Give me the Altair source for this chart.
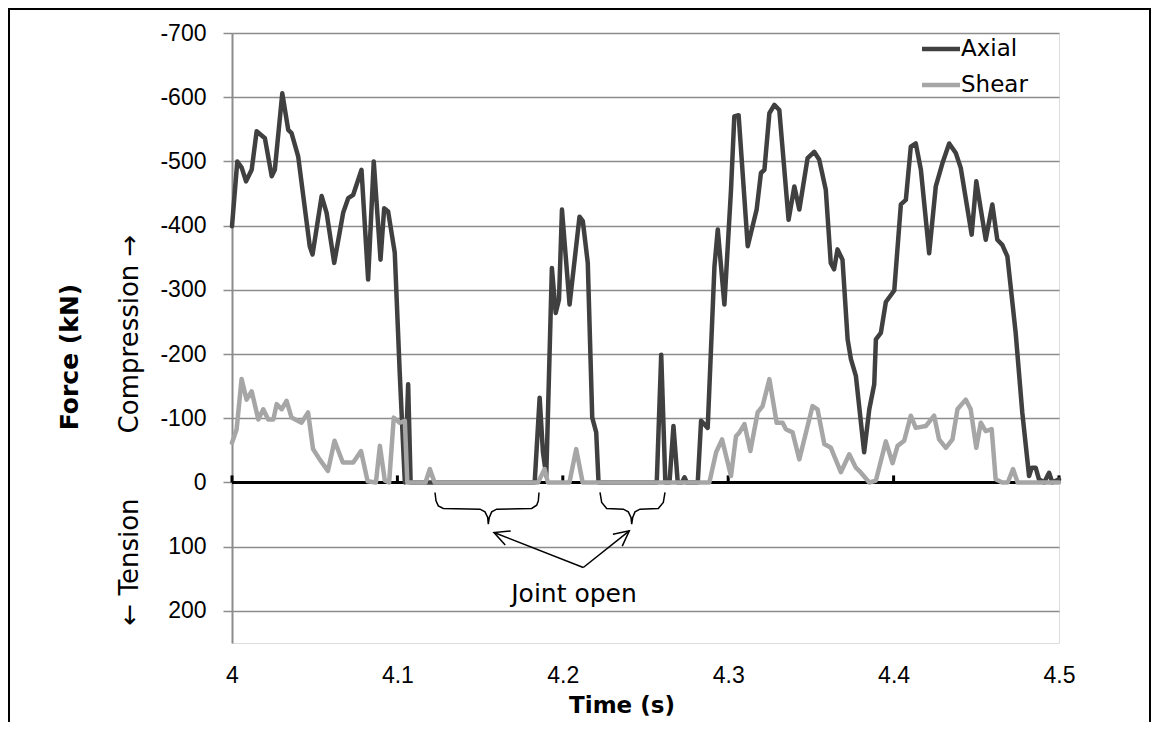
import altair as alt
import pandas as pd

# ---------------- data ----------------
axial_t = [4.0000, 4.0032, 4.0059, 4.0085, 4.0119, 4.0149, 4.0199, 4.0240, 4.0259, 4.0304,
           4.0340, 4.0360, 4.0400, 4.0470, 4.0487, 4.0542, 4.0572, 4.0618, 4.0672, 4.0703,
           4.0733, 4.0783, 4.0823, 4.0857, 4.0898, 4.0920, 4.0944, 4.0984, 4.1014, 4.1045,
           4.1065, 4.1080, 4.1830, 4.1860, 4.1880, 4.1900, 4.1934, 4.1957, 4.1977, 4.1995,
           4.2041, 4.2101, 4.2121, 4.2151, 4.2178, 4.2202, 4.2216, 4.2568, 4.2595, 4.2620,
           4.2645, 4.2669, 4.2695, 4.2720, 4.2736, 4.2750, 4.2816, 4.2836, 4.2876, 4.2917,
           4.2937, 4.2977, 4.3017, 4.3037, 4.3063, 4.3118, 4.3172, 4.3198, 4.3219, 4.3249,
           4.3279, 4.3309, 4.3365, 4.3400, 4.3430, 4.3480, 4.3520, 4.3550, 4.3590, 4.3620,
           4.3640, 4.3661, 4.3691, 4.3722, 4.3742, 4.3772, 4.3822, 4.3853, 4.3883, 4.3893,
           4.3923, 4.3953, 4.4004, 4.4044, 4.4074, 4.4104, 4.4134, 4.4165, 4.4215, 4.4255,
           4.4295, 4.4336, 4.4376, 4.4406, 4.4472, 4.4500, 4.4557, 4.4597, 4.4627, 4.4657,
           4.4688, 4.4738, 4.4778, 4.4819, 4.4835, 4.4859, 4.4879, 4.4910, 4.4940, 4.4960,
           4.5000]
axial_v = [-399, -500, -490, -469, -487, -547, -536, -477, -487, -606,
           -549, -544, -508, -368, -355, -446, -420, -342, -420, -443,
           -448, -487, -316, -500, -347, -427, -422, -358, -171, 0,
           -153, 0, 0, -132, -47, -10, -334, -264, -285, -425,
           -277, -414, -407, -342, -101, -78, 0, 0, -199, 0,
           0, -88, 0, 0, -8, 0, 0, -96, -85, -337,
           -394, -277, -456, -570, -572, -368, -425, -482, -487, -575,
           -588, -580, -409, -461, -425, -505, -515, -503, -456, -342,
           -332, -363, -347, -223, -192, -166, -47, -114, -153, -223,
           -233, -281, -299, -433, -440, -523, -528, -487, -357, -461,
           -497, -528, -513, -490, -386, -469, -378, -433, -378, -370,
           -352, -233, -109, -10, -23, -23, -5, 0, -15, 0,
           -5]

shear_t = [4.0000, 4.0028, 4.0058, 4.0088, 4.0119, 4.0159, 4.0189, 4.0219, 4.0250, 4.0270,
           4.0300, 4.0330, 4.0360, 4.0420, 4.0460, 4.0490, 4.0530, 4.0580, 4.0620, 4.0670,
           4.0733, 4.0780, 4.0820, 4.0870, 4.0894, 4.0924, 4.0950, 4.0978, 4.1014, 4.1045,
           4.1060, 4.1170, 4.1196, 4.1225, 4.1850, 4.1890, 4.1910, 4.2040, 4.2081, 4.2120,
           4.2886, 4.2927, 4.2963, 4.3017, 4.3047, 4.3068, 4.3098, 4.3134, 4.3178, 4.3208,
           4.3249, 4.3293, 4.3329, 4.3349, 4.3389, 4.3430, 4.3510, 4.3540, 4.3581, 4.3621,
           4.3681, 4.3732, 4.3772, 4.3800, 4.3853, 4.3893, 4.3953, 4.3994, 4.4024, 4.4064,
           4.4104, 4.4134, 4.4195, 4.4245, 4.4275, 4.4316, 4.4356, 4.4386, 4.4436, 4.4466,
           4.4500, 4.4527, 4.4557, 4.4593, 4.4617, 4.4657, 4.4690, 4.4722, 4.4750, 4.5000]
shear_v = [-62, -83, -161, -129, -142, -98, -114, -98, -98, -122,
           -114, -127, -101, -93, -109, -52, -36, -18, -65, -31,
           -31, -49, -2, 0, -57, -3, 0, -101, -93, -96,
           0, 0, -21, 0, 0, -21, 0, 0, -52, 0,
           0, -47, -67, -10, -72, -78, -91, -49, -109, -119,
           -161, -93, -93, -83, -78, -36, -119, -114, -60, -54,
           -16, -44, -23, -16, 0, -3, -64, -30, -57, -65,
           -104, -85, -88, -104, -67, -54, -67, -114, -129, -114,
           -54, -93, -80, -83, -5, 0, 0, -21, 0, 0]

series_names = ["Axial", "Shear"]
series_colors = ["#404040", "#a6a6a6"]

x_tick_values = [4.0, 4.1, 4.2, 4.3, 4.4, 4.5]
y_tick_values = [-700, -600, -500, -400, -300, -200, -100, 0, 100, 200]

# annotation: braces marking where the joint is open, arrows, label
brace_id = ["L"] * 15 + ["R"] * 13
brace_t = [4.12273, 4.12334, 4.12473, 4.12775, 4.14994, 4.15296, 4.15459, 4.15496,
           4.15556, 4.15701, 4.16004, 4.18120, 4.18422, 4.18519, 4.18561,
           4.22249, 4.22352, 4.22654, 4.23658, 4.23960, 4.24123, 4.24166,
           4.24226, 4.24365, 4.24667, 4.25774, 4.26076, 4.26179]
brace_v = [15.6, 28.7, 36.4, 40.5, 41.6, 45.8, 54.5, 65.0, 54.5, 45.8, 41.6, 40.5, 35.4, 28.7, 15.6,
           15.6, 31.2, 40.5, 41.6, 45.8, 54.5, 65.0, 54.5, 45.8, 41.6, 40.5, 31.2, 15.6]
arrow_id = ["L", "L", "R", "R"]
arrow_t = [4.21239, 4.15840, 4.21239, 4.24021]
arrow_v = [132.4, 77.9, 132.4, 75.4]
arrow_head_t = [4.15840, 4.24021]
arrow_head_v = [77.9, 75.4]
arrow_head_angle = [201.4, 321.5]
note_text = ["Joint open"]
note_t = [4.2068]
note_v = [174.0]

# ---------------- tables ----------------
axial_df = pd.DataFrame({"t": axial_t, "force": axial_v, "series": series_names[0]})
shear_df = pd.DataFrame({"t": shear_t, "force": shear_v, "series": series_names[1]})
zero_df = pd.DataFrame({"t": [x_tick_values[0]], "t2": [x_tick_values[-1]], "force": [0]})
tick_df = pd.DataFrame({"t": x_tick_values, "force": [0] * len(x_tick_values),
                        "top": [-11] * len(x_tick_values)})
brace_df = pd.DataFrame({"id": brace_id, "t": brace_t, "force": brace_v,
                         "k": list(range(len(brace_t)))})
arrow_df = pd.DataFrame({"id": arrow_id, "t": arrow_t, "force": arrow_v,
                         "k": list(range(len(arrow_t)))})
head_df = pd.DataFrame({"t": arrow_head_t, "force": arrow_head_v, "ang": arrow_head_angle})
note_df = pd.DataFrame({"t": note_t, "force": note_v, "label": note_text})

# ---------------- scales / axes ----------------
W, H = 827, 610
x_scale = alt.Scale(domain=[4.0, 4.5], nice=False, zero=False)
y_scale = alt.Scale(domain=[-700, 250], reverse=True, nice=False, zero=False)

x_axis = alt.Axis(values=x_tick_values, format=".1~f", grid=False, domain=False, ticks=False,
                  labelFont="Liberation Sans", labelFontSize=23, labelColor="#000000",
                  labelPadding=21, title=None, labelFlush=False)
y_axis = alt.Axis(values=y_tick_values, grid=True, gridColor="#8c8c8c", gridWidth=1.5,
                  domainColor="#8c8c8c", domainWidth=2, tickColor="#8c8c8c", tickSize=9,
                  tickWidth=1.5, labelFont="Liberation Sans", labelFontSize=23,
                  labelColor="#000000", labelPadding=17, title=None,
                  labelExpr="'' + datum.value")


def X(field="t"):
    return alt.X(f"{field}:Q", scale=x_scale, axis=x_axis)


def Y(field="force"):
    return alt.Y(f"{field}:Q", scale=y_scale, axis=y_axis)


zero_line = alt.Chart(zero_df).mark_rule(color="#000000", strokeWidth=3).encode(
    x=X(), x2="t2:Q", y=Y())
zero_ticks = alt.Chart(tick_df).mark_rule(color="#000000", strokeWidth=3).encode(
    x=X(), y=Y(), y2="top:Q")

line_style = dict(strokeWidth=4.5, strokeJoin="round", strokeCap="round")
axial_line = alt.Chart(axial_df).mark_line(color=series_colors[0], **line_style).encode(
    x=X(), y=Y())
shear_line = alt.Chart(shear_df).mark_line(color=series_colors[1], **line_style).encode(
    x=X(), y=Y())

braces = alt.Chart(brace_df).mark_line(color="#000000", strokeWidth=1.5).encode(
    x=X(), y=Y(), detail="id:N", order="k:Q")
arrows = alt.Chart(arrow_df).mark_line(color="#000000", strokeWidth=1.5).encode(
    x=X(), y=Y(), detail="id:N", order="k:Q")
heads = alt.Chart(head_df).mark_point(
    shape="M-1,-0.5L0,0L-1,0.5", size=900, filled=False, color="#000000",
    strokeWidth=1.5, opacity=1).encode(
    x=X(), y=Y(), angle=alt.Angle("ang:Q", scale=None))
note = alt.Chart(note_df).mark_text(font="DejaVu Sans", fontSize=25, color="#000000",
                                    align="center", baseline="middle").encode(
    x=X(), y=Y(), text="label:N")

# legend (top right, inside the plot)
legend_layers = []
for i, (name, col) in enumerate(zip(series_names, series_colors)):
    ldf = pd.DataFrame({"series": [name]})
    yy = 16 + i * 36
    legend_layers.append(alt.Chart(ldf).mark_rule(color=col, strokeWidth=4.5).encode(
        x=alt.value(690), x2=alt.value(728), y=alt.value(yy)))
    legend_layers.append(alt.Chart(ldf).mark_text(
        font="DejaVu Sans", fontSize=23, color="#000000", align="left",
        baseline="middle").encode(x=alt.value(729), y=alt.value(yy), text="series:N"))


# titles
def label(txt, x, y, angle=0, bold=False, size=24):
    d = pd.DataFrame({"label": [txt]})
    kw = dict(font="DejaVu Sans", fontSize=size, color="#000000", align="center",
              baseline="middle")
    if angle:
        kw["angle"] = angle
    if bold:
        kw["fontWeight"] = "bold"
    return alt.Chart(d).mark_text(**kw).encode(x=alt.value(x), y=alt.value(y), text="label:N")


titles = [
    label("Force (kN)", -162, 324, angle=270, bold=True, size=25),
    label("Compression \u2192", -102, 301, angle=270, size=26),
    label("\u2190 Tension", -102, 529, angle=270, size=26),
    label("Time (s)", 390, 673, bold=True, size=23),
]

frame = alt.Chart(pd.DataFrame({"f": [1]})).mark_rect(
    fillOpacity=0, stroke="#000000", strokeWidth=2).encode(
    x=alt.value(-223), x2=alt.value(918), y=alt.value(-24), y2=alt.value(900))

chart = alt.layer(
    zero_line, zero_ticks, axial_line, shear_line, braces, arrows, heads, note,
    *legend_layers, *titles, frame
).properties(
    width=W, height=H,
    autosize=alt.AutoSizeParams(type="none"),
    padding={"left": 224, "top": 25, "right": 92, "bottom": 79},
).configure_view(stroke=None).configure(background="#ffffff")

chart.save("out.html", embed_options={"renderer": "svg", "actions": False})
